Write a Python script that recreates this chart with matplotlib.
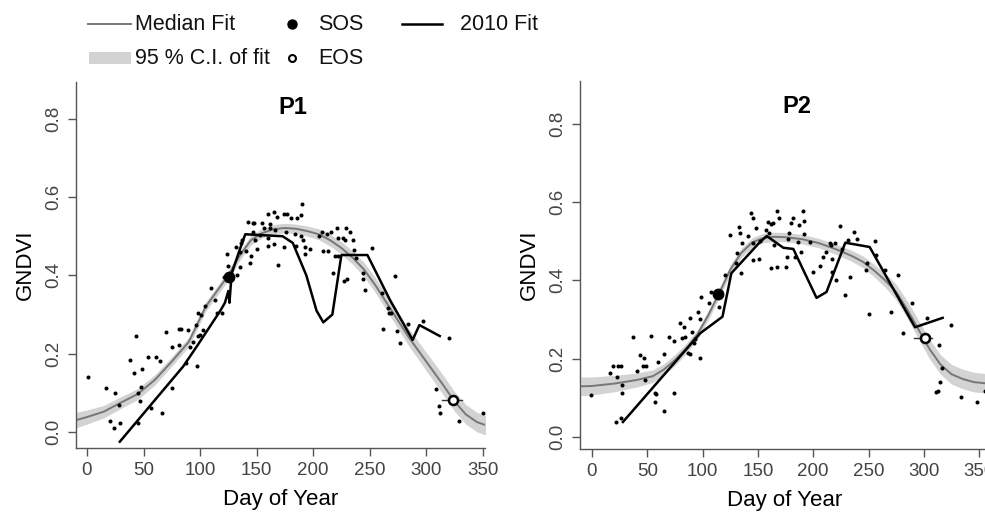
import matplotlib.pyplot as plt
from matplotlib.lines import Line2D
from matplotlib.patches import Rectangle

# Datos
ticks_x = [0, 50, 100, 150, 200, 250, 300, 350]
ticks_y = [0.0, 0.2, 0.4, 0.6, 0.8]

# P1 - observaciones
p1_day = [1, 17, 25, 20, 24, 29, 28, 43, 38, 42, 49, 48, 45, 47, 45, 54, 61, 65, 57, 66,
          75, 70, 75, 81, 83, 89, 81, 91, 88, 97, 94, 98, 100, 103, 96, 98, 101, 104, 115, 119,
          190, 160, 165, 174, 177, 180, 186, 189, 168, 142, 147, 148, 155, 162, 157, 162, 147, 153,
          160, 166, 176, 184, 189, 191, 185, 193, 197, 193, 160, 165, 174, 169, 149, 150, 144, 145,
          141, 132, 136, 137, 135, 124, 135, 133, 121, 110, 113, 125,
          209, 213, 212, 216, 221, 229, 233, 222, 226, 228, 235, 205, 208, 219, 222, 236, 252, 238,
          218, 227, 230, 244, 244, 246, 261,
          272, 266, 267, 269, 262, 274, 277, 284, 297, 320, 309, 311, 312, 329, 350]
p1_val = [0.140, 0.113, 0.100, 0.028, 0.010, 0.022, 0.069, 0.245, 0.184, 0.150, 0.160, 0.116, 0.099, 0.080, 0.022, 0.191, 0.191, 0.180, 0.060, 0.048,
          0.113, 0.256, 0.218, 0.262, 0.263, 0.260, 0.222, 0.218, 0.175, 0.169, 0.231, 0.245, 0.247, 0.261, 0.273, 0.303, 0.299, 0.322, 0.305, 0.305,
          0.583, 0.557, 0.563, 0.557, 0.558, 0.546, 0.546, 0.554, 0.548, 0.537, 0.533, 0.534, 0.533, 0.531, 0.520, 0.520, 0.512, 0.503,
          0.495, 0.516, 0.510, 0.506, 0.500, 0.490, 0.475, 0.472, 0.467, 0.454, 0.475, 0.479, 0.472, 0.427, 0.490, 0.467, 0.431, 0.450,
          0.463, 0.472, 0.482, 0.490, 0.460, 0.454, 0.422, 0.400, 0.397, 0.367, 0.337, 0.424,
          0.463, 0.463, 0.506, 0.512, 0.520, 0.520, 0.512, 0.495, 0.496, 0.490, 0.490, 0.500, 0.510, 0.450, 0.450, 0.465, 0.469, 0.444,
          0.407, 0.386, 0.390, 0.405, 0.390, 0.363, 0.356,
          0.398, 0.316, 0.303, 0.303, 0.263, 0.259, 0.228, 0.276, 0.284, 0.241, 0.109, 0.067, 0.049, 0.029, 0.049]

# P1 - ajuste mediano e intervalo
p1_med_day = [-10, 0, 15, 30, 45, 60, 75, 90, 105, 115, 125, 135, 145, 155, 165, 175, 185, 195, 205, 215,
              225, 235, 245, 255, 265, 275, 285, 295, 305, 315, 325, 335, 345, 355, 365]
p1_med_val = [0.030, 0.038, 0.052, 0.075, 0.097, 0.133, 0.180, 0.230, 0.320, 0.360, 0.400, 0.450, 0.490, 0.508, 0.518, 0.521, 0.519, 0.513, 0.505, 0.490,
              0.470, 0.445, 0.415, 0.375, 0.330, 0.285, 0.240, 0.200, 0.160, 0.120, 0.078, 0.045, 0.025, 0.015, 0.010]
p1_ci = [0.020, 0.018, 0.016, 0.015, 0.014, 0.013, 0.012, 0.012, 0.012, 0.012, 0.012, 0.012, 0.012, 0.012, 0.012, 0.012, 0.012, 0.013, 0.014, 0.015,
         0.016, 0.017, 0.018, 0.019, 0.020, 0.021, 0.022, 0.023, 0.024, 0.025, 0.025, 0.025, 0.025, 0.025, 0.025]

# P1 - ajuste 2010
p1_fit_day = [29, 85, 97, 118, 122, 125, 126, 128, 135, 140, 173, 182, 194, 203, 209, 217, 225, 248, 268, 288, 294, 312]
p1_fit_val = [-0.025, 0.167, 0.218, 0.310, 0.330, 0.360, 0.330, 0.405, 0.465, 0.505, 0.500, 0.483, 0.400, 0.310, 0.280, 0.300, 0.452, 0.452, 0.337, 0.235, 0.273, 0.245]

p1_sos = (125.5, 0.396)
p1_eos = (323.6, 0.082)
p1_eos_rng = (313.6, 332.0)

# P2 - observaciones
p2_day = [-1, 16, 19, 24, 26, 23, 27, 27, 22, 26, 37, 41, 43, 46, 47, 49, 48, 53, 60, 65,
          57, 58, 57, 65, 70, 74, 74, 80, 83, 81, 84, 89, 90, 87, 89, 92, 93, 96, 98, 99,
          98, 106, 108, 115, 120,
          143.5, 145.3, 167, 169.4, 159.4, 162, 163.5, 191, 192, 181.4, 179.6, 187.5, 148.3, 133, 124.8, 134, 140.8, 135.3,
          145.8, 152, 157, 160, 177.5, 178.4, 186.5, 192, 197, 130.8, 130, 135, 145.8, 151.3, 164.5, 167.5, 161.6, 175.4,
          176, 183.6, 189, 199.5, 206, 208.6, 212, 215, 216.5, 220, 224, 225.8, 216.7, 216.7, 221, 233, 229, 237, 231.8,
          240, 256, 256.8, 248.4, 247.7, 265, 277,
          289, 250, 270, 281.5, 302.6, 324.6, 313.7, 316.7, 315, 312.6, 311, 334, 348, 355]
p2_val = [0.106, 0.163, 0.180, 0.180, 0.180, 0.152, 0.133, 0.113, 0.037, 0.049, 0.254, 0.169, 0.209, 0.180, 0.201, 0.180, 0.146, 0.258, 0.190, 0.212,
          0.112, 0.110, 0.090, 0.066, 0.254, 0.245, 0.113, 0.292, 0.280, 0.252, 0.255, 0.303, 0.269, 0.214, 0.212, 0.239, 0.250, 0.320, 0.300, 0.358,
          0.201, 0.343, 0.371, 0.331, 0.414,
          0.573, 0.559, 0.576, 0.559, 0.550, 0.545, 0.546, 0.577, 0.552, 0.559, 0.546, 0.542, 0.533, 0.536, 0.516, 0.522, 0.512, 0.496,
          0.496, 0.500, 0.529, 0.520, 0.505, 0.522, 0.499, 0.519, 0.499, 0.469, 0.444, 0.418, 0.452, 0.455, 0.490, 0.435, 0.431, 0.433,
          0.460, 0.460, 0.473, 0.422, 0.437, 0.459, 0.471, 0.495, 0.490, 0.496, 0.539, 0.479, 0.454, 0.422, 0.401, 0.408, 0.363, 0.523, 0.503,
          0.505, 0.501, 0.465, 0.444, 0.427, 0.427, 0.414,
          0.342, 0.314, 0.318, 0.265, 0.303, 0.286, 0.235, 0.177, 0.140, 0.117, 0.115, 0.103, 0.090, 0.116]

p2_med_day = [-10, 0, 20, 40, 55, 65, 75, 85, 95, 105, 115, 125, 135, 145, 155, 165, 175, 190, 205, 220,
              235, 245, 255, 265, 275, 285, 295, 305, 315, 325, 335, 345, 355, 365]
p2_med_val = [0.129, 0.130, 0.136, 0.145, 0.155, 0.172, 0.196, 0.225, 0.260, 0.310, 0.367, 0.427, 0.470, 0.497, 0.508, 0.511, 0.510, 0.505, 0.495, 0.480,
              0.462, 0.447, 0.425, 0.400, 0.370, 0.325, 0.275, 0.225, 0.185, 0.160, 0.148, 0.140, 0.137, 0.135]
p2_ci = [0.024, 0.023, 0.021, 0.018, 0.016, 0.015, 0.014, 0.013, 0.012, 0.012, 0.012, 0.012, 0.012, 0.012, 0.012, 0.012, 0.012, 0.012, 0.012, 0.013,
         0.014, 0.015, 0.016, 0.018, 0.020, 0.022, 0.024, 0.025, 0.025, 0.025, 0.025, 0.025, 0.025, 0.025]

p2_fit_day = [28, 98, 118, 124, 126, 152, 158, 173, 182, 203, 212, 229, 251, 292, 317]
p2_fit_val = [0.038, 0.265, 0.307, 0.390, 0.418, 0.498, 0.513, 0.483, 0.480, 0.355, 0.370, 0.496, 0.485, 0.280, 0.304]

p2_sos = (114, 0.365)
p2_eos = (301, 0.253)
p2_eos_rng = (291, 307)

plt.rcParams['font.family'] = ['Liberation Sans', 'DejaVu Sans']
GRIS = '#555555'
MED = '#777777'
BANDA = '#d3d3d3'

fig = plt.figure(figsize=(9.85, 5.16), dpi=100)
W, H = 985.0, 516.0
ax1 = fig.add_axes([76 / W, 1 - 448 / H, (485 - 76) / W, (448 - 82) / H])
ax2 = fig.add_axes([580 / W, 1 - 449 / H, (990 - 580) / W, (449 - 81) / H])


def panel(ax, titulo, obs_d, obs_v, med_d, med_v, ci, fit_d, fit_v, sos, eos, eos_rng, xlim, ylim):
    lo = [m - c for m, c in zip(med_v, ci)]
    hi = [m + c for m, c in zip(med_v, ci)]
    ax.fill_between(med_d, lo, hi, color=BANDA, lw=0, zorder=1)
    ax.plot(med_d, med_v, color=MED, lw=1.4, zorder=2)
    ax.plot(fit_d, fit_v, color='black', lw=1.8, zorder=3)
    ax.plot(obs_d, obs_v, 'o', color='black', ms=2.9, mew=0, zorder=4)
    ax.plot([eos_rng[0], eos_rng[1]], [eos[1], eos[1]], color='#333333', lw=1.0, zorder=5)
    ax.plot(*sos, 'o', color='black', ms=7.5, zorder=6)
    ax.plot(*eos, 'o', mfc='white', mec='black', ms=6.5, mew=1.8, zorder=6)

    ax.set_xlim(*xlim)
    ax.set_ylim(*ylim)
    ax.set_xticks(ticks_x)
    ax.set_yticks(ticks_y)
    ax.set_yticklabels(['%.1f' % t for t in ticks_y], rotation=90, va='center')
    for s in ['top', 'right']:
        ax.spines[s].set_visible(False)
    for s in ['left', 'bottom']:
        ax.spines[s].set_color(GRIS)
        ax.spines[s].set_linewidth(1.0)
    ax.tick_params(direction='out', length=6, width=1.0, color=GRIS, labelcolor='#444444',
                   labelsize=13.5, pad=4)
    ax.set_xlabel('Day of Year', fontsize=16, labelpad=7)
    ax.set_ylabel('GNDVI', fontsize=16, labelpad=7)
    ax.text(0.53, 0.93, titulo, transform=ax.transAxes, ha='center', va='center',
            fontsize=17, fontweight='bold')


panel(ax1, 'P1', p1_day, p1_val, p1_med_day, p1_med_val, p1_ci, p1_fit_day, p1_fit_val,
      p1_sos, p1_eos, p1_eos_rng, (-9.7, 352), (-0.041, 0.894))
panel(ax2, 'P2', p2_day, p2_val, p2_med_day, p2_med_val, p2_ci, p2_fit_day, p2_fit_val,
      p2_sos, p2_eos, p2_eos_rng, (-10.8, 359.8), (-0.031, 0.909))


# Leyenda colocada a mano (coordenadas en pixeles de la figura)
def fx(px):
    return px / W


def fy(py):
    return 1 - py / H


y1, y2 = 24, 58
fig.add_artist(Line2D([fx(88), fx(131)], [fy(y1), fy(y1)], color=MED, lw=1.4))
fig.add_artist(Rectangle((fx(89), fy(y2 + 6)), fx(131) - fx(89), 12 / H, color=BANDA, lw=0))
fig.add_artist(Line2D([fx(292)], [fy(y1)], marker='o', color='black', ms=6.5, ls='none'))
fig.add_artist(Line2D([fx(292)], [fy(y2)], marker='o', mfc='white', mec='black', ms=5,
                      mew=1.5, ls='none'))
fig.add_artist(Line2D([fx(402), fx(442)], [fy(y1), fy(y1)], color='black', lw=1.8))
leg_txt = [('Median Fit', 135, y1), ('95 % C.I. of fit', 135, y2), ('SOS', 318, y1),
           ('EOS', 318, y2), ('2010 Fit', 460, y1)]
for t, x, y in leg_txt:
    fig.text(fx(x), fy(y), t, fontsize=15.5, ha='left', va='center', color='#111111')

fig.savefig('out.png', dpi=100)
